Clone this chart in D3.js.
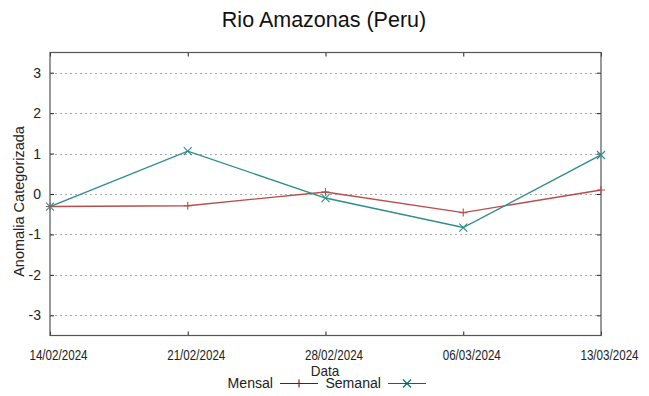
<!DOCTYPE html>
<html>
<head>
<meta charset="utf-8">
<script src="https://cdn.jsdelivr.net/npm/d3@7"></script>
<style>
  body { margin: 0; background: #fff; }
  .reg { font-family: "Liberation Sans", Arial, sans-serif; }
</style>
</head>
<body>
<div id="chart"></div>
<script>
const width = 649, height = 396;

// data
const dates = ["14/02/2024", "21/02/2024", "28/02/2024", "06/03/2024", "13/03/2024"];
const mensal = [-0.31, -0.29, 0.05, -0.46, 0.1];
const semanal = [-0.31, 1.06, -0.1, -0.83, 0.965];
const yTicks = [-3, -2, -1, 0, 1, 2, 3];

const parse = d3.timeParse("%d/%m/%Y");
const margin = { top: 52.5, right: 48, bottom: 60.5, left: 50 };
const squeeze = 0.83; // gnuplot's narrow-looking labels

const svg = d3.select("#chart")
  .append("svg")
  .attr("width", width)
  .attr("height", height);

const x = d3.scaleTime()
  .domain(d3.extent(dates, d => parse(d)))
  .range([margin.left, width - margin.right]);

const y = d3.scaleLinear()
  .domain([-3.5, 3.5])
  .range([height - margin.bottom, margin.top]);

// grid
svg.append("g")
  .selectAll("line")
  .data(yTicks)
  .join("line")
  .attr("x1", margin.left)
  .attr("x2", width - margin.right)
  .attr("y1", d => Math.round(y(d)) + 0.5)
  .attr("y2", d => Math.round(y(d)) + 0.5)
  .attr("stroke", "#a8a8a8")
  .attr("stroke-dasharray", "2,3");

// y axis (left + mirrored right)
const yAxisL = svg.append("g")
  .attr("transform", `translate(${margin.left},0)`)
  .call(d3.axisLeft(y).tickValues(yTicks).tickSize(-4).tickPadding(9).tickFormat(d => String(d)));
const yAxisR = svg.append("g")
  .attr("transform", `translate(${width - margin.right},0)`)
  .call(d3.axisRight(y).tickValues(yTicks).tickSize(-4).tickFormat(""));

// x axis (bottom + mirrored top)
const xAxisB = svg.append("g")
  .attr("transform", `translate(0,${height - margin.bottom})`)
  .call(d3.axisBottom(x).tickValues(dates.map(parse)).tickSize(-4)
    .tickFormat(d3.timeFormat("%d/%m/%Y")).tickPadding(15));
const xAxisT = svg.append("g")
  .attr("transform", `translate(0,${margin.top})`)
  .call(d3.axisTop(x).tickValues(dates.map(parse)).tickSize(-4).tickFormat(""));

[yAxisL, yAxisR, xAxisB, xAxisT].forEach(g => {
  g.select(".domain").remove();
  g.selectAll(".tick line").attr("stroke", "#222");
});

yAxisL.selectAll("text")
  .attr("class", "reg")
  .style("font-size", "14px")
  .attr("fill", "#222");

xAxisB.selectAll("text")
  .attr("class", "reg")
  .style("font-size", "14px")
  .attr("fill", "#222")
  .attr("transform", `scale(${squeeze},1)`)
  .attr("dx", 8 / squeeze);

// frame
svg.append("rect")
  .attr("x", margin.left)
  .attr("y", margin.top)
  .attr("width", width - margin.left - margin.right)
  .attr("height", height - margin.top - margin.bottom)
  .attr("fill", "none")
  .attr("stroke", "#555")
  .attr("stroke-width", 1.2);

// series
const series = [
  { name: "Mensal", values: mensal, color: "#bb4c4c", line: "#a00000", marker: "plus" },
  { name: "Semanal", values: semanal, color: "#2d8c8c", line: "#006a6a", marker: "cross" }
];

const line = d3.line()
  .x((d, i) => x(parse(dates[i])))
  .y(d => y(d));

function marker(g, type, cx, cy, color) {
  const s = 4;
  const d = type === "plus"
    ? `M${cx - s},${cy}H${cx + s}M${cx},${cy - s}V${cy + s}`
    : `M${cx - s},${cy - s}L${cx + s},${cy + s}M${cx - s},${cy + s}L${cx + s},${cy - s}`;
  g.append("path")
    .attr("d", d)
    .attr("stroke", color)
    .attr("stroke-width", 1.1)
    .attr("fill", "none");
}

series.forEach(s => {
  const g = svg.append("g");
  g.append("path")
    .datum(s.values)
    .attr("d", line)
    .attr("fill", "none")
    .attr("stroke", s.color)
    .attr("stroke-width", 1.4);
  s.values.forEach((v, i) => marker(g, s.marker, x(parse(dates[i])), y(v), s.color));
});

// title
svg.append("text")
  .attr("class", "reg")
  .attr("x", 324)
  .attr("y", 27)
  .attr("text-anchor", "middle")
  .style("font-size", "21.5px")
  .attr("fill", "#111")
  .text("Rio Amazonas (Peru)");

// y label
svg.append("text")
  .attr("class", "reg")
  .attr("transform", "translate(24,201.5) rotate(-90)")
  .attr("text-anchor", "middle")
  .style("font-size", "14.5px")
  .attr("fill", "#222")
  .text("Anomalia Categorizada");

// x label
svg.append("text")
  .attr("class", "reg")
  .attr("transform", "translate(325,376) scale(0.9,1)")
  .attr("text-anchor", "middle")
  .style("font-size", "15px")
  .attr("fill", "#222")
  .text("Data");

// legend
const legendX = [273, 381];
series.forEach((s, i) => {
  const g = svg.append("g");
  g.append("text")
    .attr("class", "reg")
    .attr("transform", `translate(${legendX[i]},388) scale(0.94,1)`)
    .attr("text-anchor", "end")
    .style("font-size", "15px")
    .attr("fill", "#222")
    .text(s.name);
  g.append("line")
    .attr("x1", legendX[i] + 7)
    .attr("x2", legendX[i] + 45)
    .attr("y1", 383.5)
    .attr("y2", 383.5)
    .attr("stroke", s.line)
    .attr("stroke-width", 1.2);
  marker(g, s.marker, legendX[i] + 26, 383.5, s.line);
});
</script>
</body>
</html>
